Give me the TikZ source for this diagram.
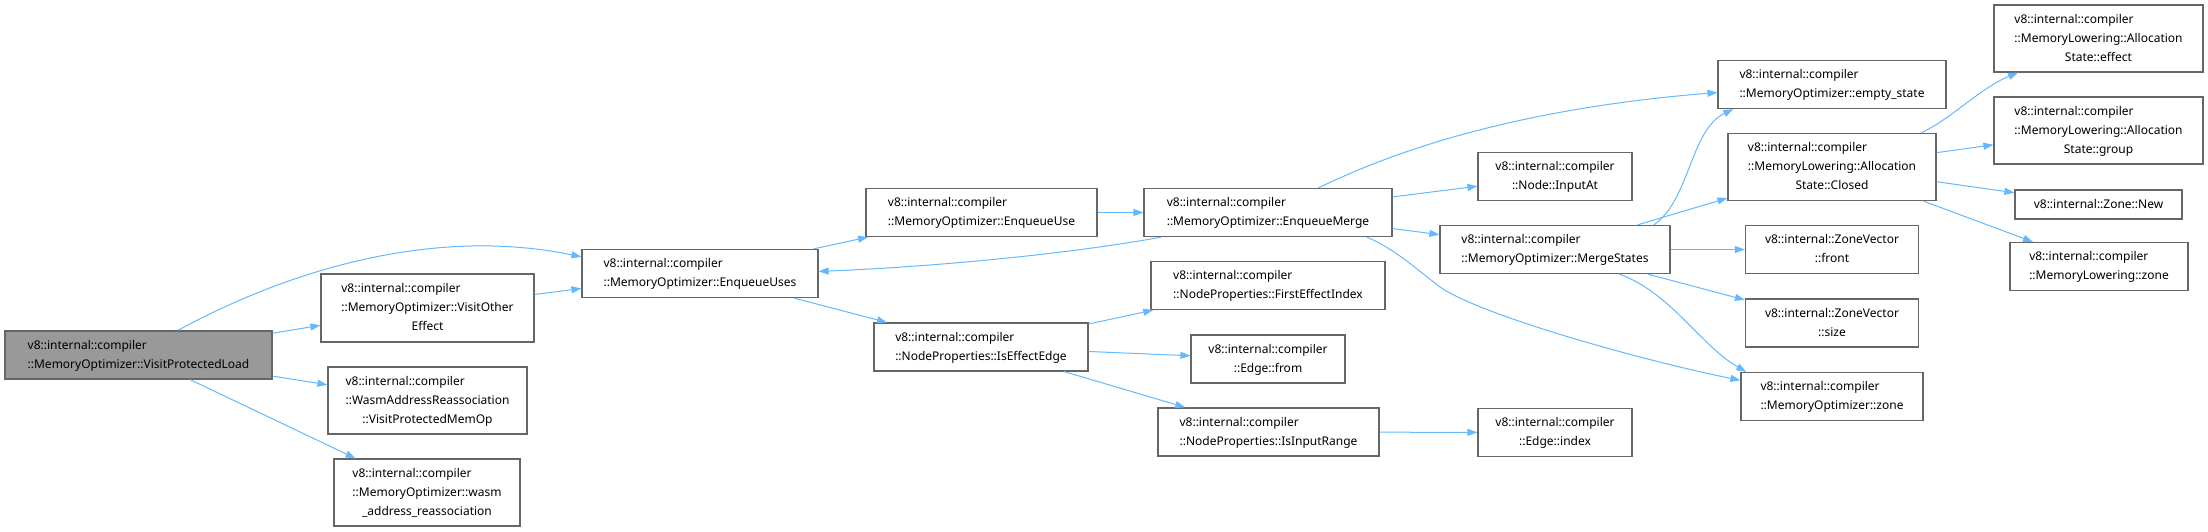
\documentclass[tikz,border=0pt]{standalone}
\usepackage{fontspec}
\setmainfont{Noto Sans}
\usetikzlibrary{arrows.meta}
\definecolor{edgeblue}{HTML}{63B8FF}
\definecolor{boxgray}{HTML}{666666}
\definecolor{rootgray}{HTML}{999999}
\newcommand{\lbl}[2]{\begin{tabular}{@{}l@{}}#1\\\multicolumn{1}{@{}c@{}}{#2}\end{tabular}}
\begin{document}
\begin{tikzpicture}[x=1pt, y=-1pt,
  every node/.style={font=\fontsize{12}{19}\selectfont},
  fn/.style={draw=boxgray, line width=1.2pt, fill=white, inner sep=0pt, minimum width=#1, minimum height=48pt},
  root/.style={fn=#1, fill=rootgray},
  call/.style={draw=edgeblue, line width=1pt, -{Triangle[length=10pt, width=7pt]}}]
\useasboundingbox (0,0) rectangle (2208,532);
\node[root=267] (vpl) at (138.5,355) {\lbl{v8::internal::compiler}{::MemoryOptimizer::VisitProtectedLoad}};
\node[fn=213, minimum height=68pt] (voe) at (427.5,308) {\lbl{v8::internal::compiler\\::MemoryOptimizer::VisitOther}{Effect}};
\node[fn=199, minimum height=67pt] (war) at (427.5,400.5) {\lbl{v8::internal::compiler\\::WasmAddressReassociation}{::VisitProtectedMemOp}};
\node[fn=186, minimum height=67pt] (wara) at (427,492.5) {\lbl{v8::internal::compiler\\::MemoryOptimizer::wasm}{\_address\_reassociation}};
\node[fn=236] (euses) at (700,273.5) {\lbl{v8::internal::compiler}{::MemoryOptimizer::EnqueueUses}};
\node[fn=231] (euse) at (981.5,212.5) {\lbl{v8::internal::compiler}{::MemoryOptimizer::EnqueueUse}};
\node[fn=214] (effedge) at (981,347) {\lbl{v8::internal::compiler}{::NodeProperties::IsEffectEdge}};
\node[fn=248] (emerge) at (1268,212.5) {\lbl{v8::internal::compiler}{::MemoryOptimizer::EnqueueMerge}};
\node[fn=234] (firsteff) at (1268,285.5) {\lbl{v8::internal::compiler}{::NodeProperties::FirstEffectIndex}};
\node[fn=154] (efrom) at (1268,359) {\lbl{v8::internal::compiler}{::Edge::from}};
\node[fn=221] (inrange) at (1268.5,432) {\lbl{v8::internal::compiler}{::NodeProperties::IsInputRange}};
\node[fn=154] (inputat) at (1555,176.5) {\lbl{v8::internal::compiler}{::Node::InputAt}};
\node[fn=230] (mstates) at (1555,249.5) {\lbl{v8::internal::compiler}{::MemoryOptimizer::MergeStates}};
\node[fn=154] (eindex) at (1555,432.5) {\lbl{v8::internal::compiler}{::Edge::index}};
\node[fn=228] (estate) at (1832,84.5) {\lbl{v8::internal::compiler}{::MemoryOptimizer::empty\_state}};
\node[fn=208, minimum height=67pt] (closed) at (1832,167) {\lbl{v8::internal::compiler\\::MemoryLowering::Allocation}{State::Closed}};
\node[fn=173] (front) at (1832,249.5) {\lbl{v8::internal::ZoneVector}{::front}};
\node[fn=173] (zvsize) at (1832,323) {\lbl{v8::internal::ZoneVector}{::size}};
\node[fn=182] (mozone) at (1832,396.5) {\lbl{v8::internal::compiler}{::MemoryOptimizer::zone}};
\node[fn=209, minimum height=67pt] (effect) at (2098.5,38.5) {\lbl{v8::internal::compiler\\::MemoryLowering::Allocation}{State::effect}};
\node[fn=209, minimum height=67pt] (group) at (2098.5,130.5) {\lbl{v8::internal::compiler\\::MemoryLowering::Allocation}{State::group}};
\node[fn=167, minimum height=29pt] (znew) at (2098.5,204.5) {v8::internal::Zone::New};
\node[fn=178] (mlzone) at (2099,266.5) {\lbl{v8::internal::compiler}{::MemoryLowering::zone}};
\draw[call] (vpl.32) .. controls (287,271) and (432,226) .. (euses.172);
\draw[call] (vpl) -- (voe);
\draw[call] (vpl) -- (war);
\draw[call] (vpl) -- (wara);
\draw[call] (voe) -- (euses);
\draw[call] (euses) -- (euse);
\draw[call] (euses) -- (effedge);
\draw[call] (euse) -- (emerge);
\draw[call] (emerge.193) .. controls (1080,252) and (950,266) .. (euses.1);
\draw[call] (emerge.26) .. controls (1380,158) and (1500,110) .. (estate.184);
\draw[call] (emerge) -- (inputat);
\draw[call] (emerge) -- (mstates);
\draw[call] (emerge.-14) .. controls (1395,249) and (1415,268) .. (1440,287) .. controls (1480,315) and (1640,360) .. (mozone.170);
\draw[call] (effedge) -- (firsteff);
\draw[call] (effedge) -- (efrom);
\draw[call] (effedge) -- (inrange);
\draw[call] (inrange) -- (eindex);
\draw[call] (mstates.14) .. controls (1690,200) and (1690,130) .. (estate.194);
\draw[call] (mstates) -- (closed);
\draw[call] (mstates) -- (front);
\draw[call] (mstates) -- (zvsize);
\draw[call] (mstates.-21) .. controls (1670,292) and (1700,345) .. (mozone.164);
\draw[call] (closed.21) .. controls (1950,120) and (1980,88) .. (effect.203);
\draw[call] (closed) -- (group);
\draw[call] (closed) -- (znew);
\draw[call] (closed) -- (mlzone);
\end{tikzpicture}
\end{document}
